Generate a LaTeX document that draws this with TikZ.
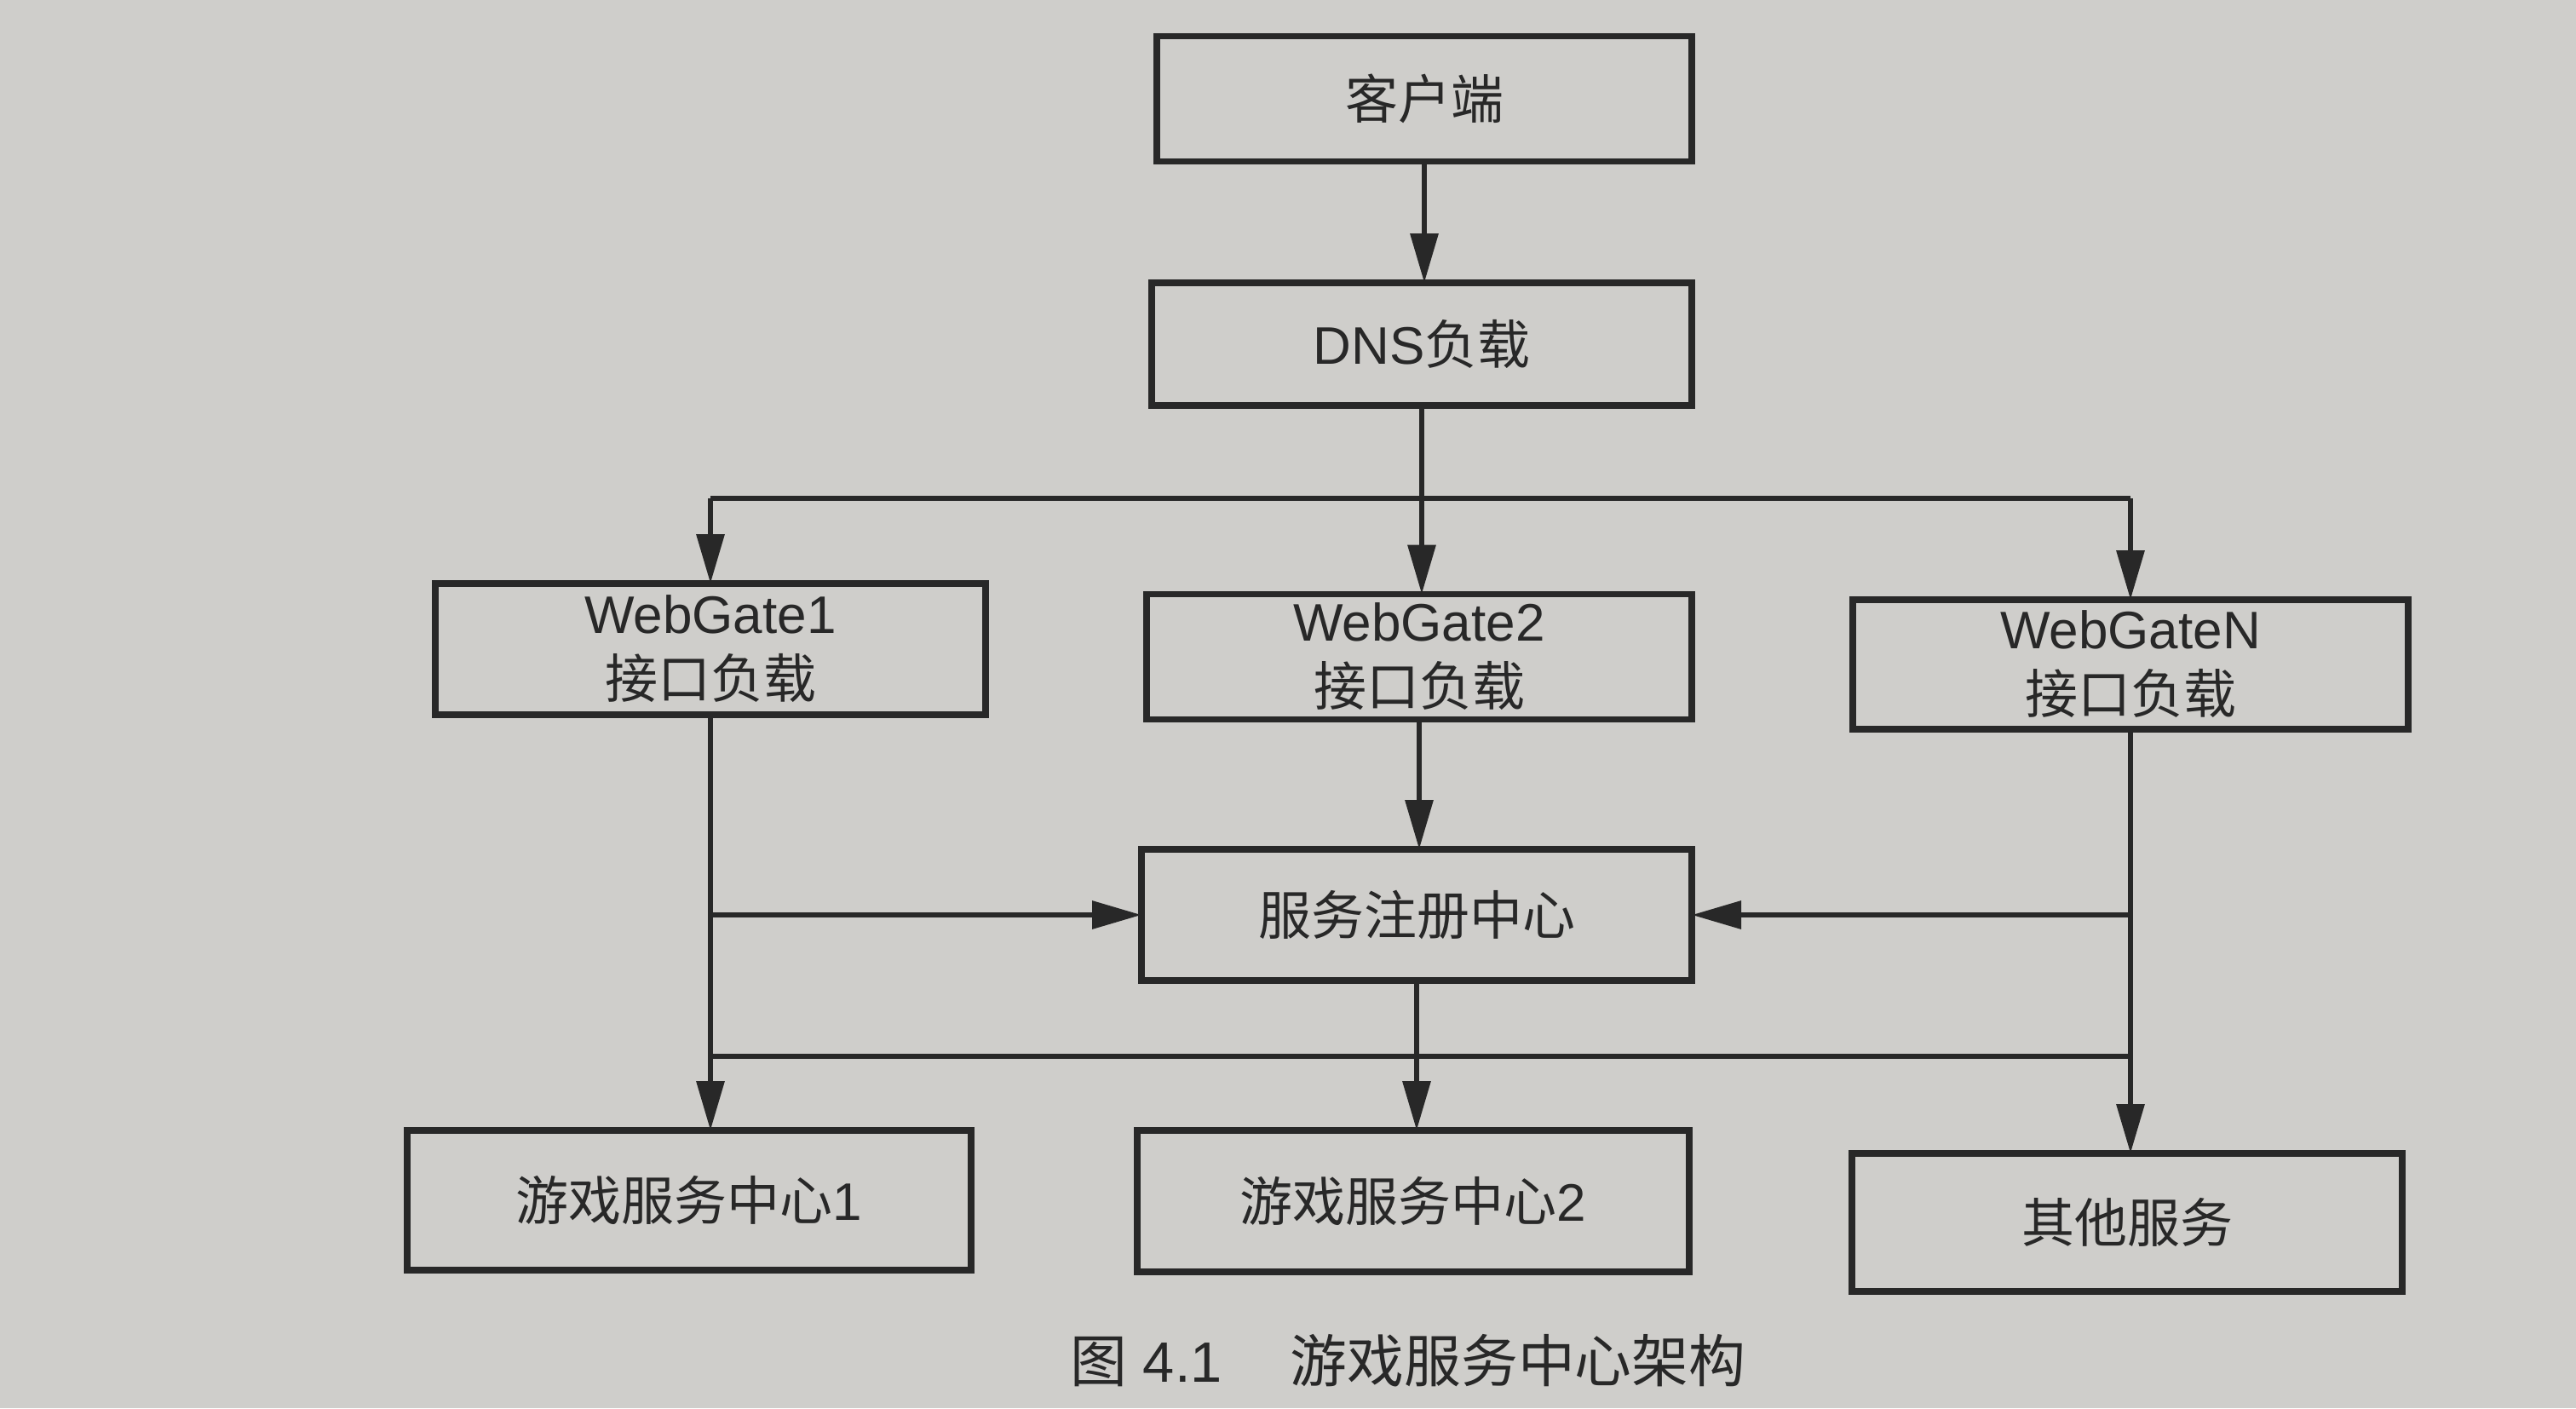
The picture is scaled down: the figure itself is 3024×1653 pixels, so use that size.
\documentclass[tikz,border=0pt]{standalone}
\usepackage{fontspec}
\usepackage{tikz}
\usetikzlibrary{arrows.meta}
\setmainfont{Liberation Sans}
\newfontfamily\cjk{Noto Sans CJK SC}
\definecolor{pagecolor1}{RGB}{207,206,203}
\definecolor{inkcolor1}{RGB}{40,40,40}

\begin{document}
\begin{tikzpicture}[x=0.25pt,y=-0.25pt,inner sep=0pt,outer sep=0pt,
  box/.style={draw=inkcolor1,line width=1.9pt,align=center,text=inkcolor1,
    font=\fontsize{15.5pt}{19pt}\selectfont},
  link/.style={draw=inkcolor1,line width=1.6pt},
  arrow/.style={link,-{Triangle[length=14.5pt,width=8pt]}}]
  \useasboundingbox (0,0) rectangle (3024,1653);
  \fill[pagecolor1] (0,0) rectangle (3024,1653);
  % boxes
  \node[box,minimum width=157pt,minimum height=36.75pt] (client) at (1672,116) {{\cjk 客户端}};
  \node[box,minimum width=158.5pt,minimum height=36pt] (dns) at (1669,404) {DNS{\cjk 负载}};
  \node[box,minimum width=161.5pt,minimum height=38.5pt] (wg1) at (834,762) {WebGate1\\{\cjk 接口负载}};
  \node[box,minimum width=160pt,minimum height=36.75pt] (wg2) at (1666,771) {WebGate2\\{\cjk 接口负载}};
  \node[box,minimum width=163pt,minimum height=38pt] (wgn) at (2501,780) {WebGateN\\{\cjk 接口负载}};
  \node[box,minimum width=161.5pt,minimum height=38.5pt] (reg) at (1663,1074) {{\cjk 服务注册中心}};
  \node[box,minimum width=165.5pt,minimum height=41pt] (game1) at (809,1409) {{\cjk 游戏服务中心}1};
  \node[box,minimum width=162pt,minimum height=41.5pt] (game2) at (1659,1410) {{\cjk 游戏服务中心}2};
  \node[box,minimum width=161.5pt,minimum height=40.5pt] (other) at (2497,1435) {{\cjk 其他服务}};
  % connectors
  \coordinate (upperbus) at (0,585);
  \coordinate (lowerbus) at (0,1240);
  \draw[arrow] (client.south) -- (client.south |- dns.north);
  \draw[arrow] (dns.south) -- (dns.south |- wg2.north);
  \draw[link] (wg1.north |- upperbus) -- (wgn.north |- upperbus);
  \foreach \gate in {wg1,wgn}
    \draw[arrow] (\gate.north |- upperbus) -- (\gate.north);
  \draw[arrow] (wg1.south) -- (wg1.south |- game1.north);
  \draw[arrow] (wg1.south |- reg.west) -- (reg.west);
  \draw[arrow] (wg2.south) -- (wg2.south |- reg.north);
  \draw[arrow] (wgn.south) -- (wgn.south |- other.north);
  \draw[arrow] (wgn.south |- reg.east) -- (reg.east);
  \draw[arrow] (reg.south) -- (reg.south |- game2.north);
  \draw[link] (wg1.south |- lowerbus) -- (wgn.south |- lowerbus);
  % caption
  \node[text=inkcolor1,font=\fontsize{16.7pt}{20pt}\selectfont] (caption) at (1653,1597)
    {{\cjk 图} 4.1\hspace{1.2em}{\cjk 游戏服务中心架构}};
\end{tikzpicture}
\end{document}
